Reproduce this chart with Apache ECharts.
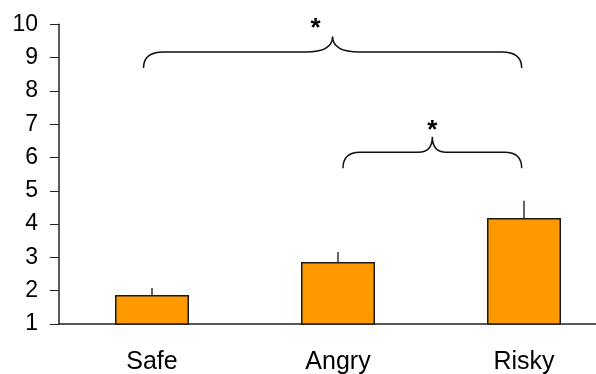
<!DOCTYPE html>
<html>
<head>
<meta charset="utf-8">
<script src="https://cdn.jsdelivr.net/npm/echarts@6/dist/echarts.min.js"></script>
<style>
  html, body { margin: 0; padding: 0; background: #fff; }
  #chart { width: 596px; height: 374px; }
</style>
</head>
<body>
<div id="chart"></div>
<script>
// Condition means with their upper error limits
const categories = ['Safe', 'Angry', 'Risky'];
const means = [1.87, 2.86, 4.18];
const errorTops = [2.08, 3.16, 4.70];

// Value axis range
const yMin = 1;
const yMax = 10;
const yStep = 1;

// Significance braces: first/last category index, value at the brace feet, mark
const braceFrom = [0, 1];
const braceTo = [2, 2];
const braceBase = [8.69, 5.68];
const braceMark = ['*', '*'];

// Drawing style for the braces (pixels)
const braceStyle = [
  { leftShift: -8.5, rightShift: -2.3, endRadius: 20, tipRadius: 27, markShift: -17, markLift: 2 },
  { leftShift: 5, rightShift: -2.3, endRadius: 17, tipRadius: 14, markShift: 0, markLift: 4.5 }
];
const FONT = 'Liberation Sans, Arial, sans-serif';

const chart = echarts.init(document.getElementById('chart'), null, { renderer: 'canvas' });

const errorData = categories.map((c, i) => [i, means[i], errorTops[i]]);
const braceData = braceFrom.map((f, i) => [f, braceTo[i], braceBase[i]]);

chart.setOption({
  animation: false,
  grid: { left: 59, top: 24.3, bottom: 50, right: -21, containLabel: false, outerBoundsMode: 'none' },
  xAxis: {
    type: 'category',
    data: categories,
    axisLine: { lineStyle: { color: '#222', width: 1.5 } },
    axisTick: { show: false },
    axisLabel: { fontSize: 25, color: '#000', fontFamily: FONT, margin: 26 }
  },
  yAxis: {
    type: 'value',
    min: yMin,
    max: yMax,
    interval: yStep,
    splitLine: { show: false },
    axisLine: { show: true, lineStyle: { color: '#222', width: 1.5 } },
    axisTick: { show: true, length: 9, lineStyle: { color: '#222', width: 1 } },
    axisLabel: { fontSize: 23, color: '#000', fontFamily: FONT, margin: 21 }
  },
  series: [
    {
      type: 'bar',
      data: means,
      barWidth: 74,
      clip: true,
      itemStyle: { color: '#FF9900', borderColor: '#1a1a1a', borderWidth: 1.5 }
    },
    {
      // upward error whiskers
      type: 'custom',
      data: errorData,
      encode: { x: 0, y: [1, 2] },
      z: 3,
      renderItem: (params, api) => {
        const lo = api.coord([api.value(0), api.value(1)]);
        const hi = api.coord([api.value(0), api.value(2)]);
        return {
          type: 'line',
          shape: { x1: lo[0], y1: lo[1], x2: hi[0], y2: hi[1] },
          style: { stroke: '#111', lineWidth: 1.3 }
        };
      }
    },
    {
      // curly braces with significance marks
      type: 'custom',
      data: braceData,
      encode: { x: [0, 1], y: 2 },
      z: 4,
      renderItem: (params, api) => {
        const s = braceStyle[params.dataIndex];
        const a = api.coord([api.value(0), api.value(2)]);
        const b = api.coord([api.value(1), api.value(2)]);
        const x0 = a[0] + s.leftShift;
        const x1 = b[0] + s.rightShift;
        const y0 = a[1];
        const yMid = y0 - 16;
        const yTip = y0 - 31.5;
        const xm = (x0 + x1) / 2;
        const r = s.endRadius, r2 = s.tipRadius;
        const d = [
          'M', x0, y0,
          'Q', x0, yMid, x0 + r, yMid,
          'L', xm - r2, yMid,
          'Q', xm, yMid, xm, yTip,
          'Q', xm, yMid, xm + r2, yMid,
          'L', x1 - r, yMid,
          'Q', x1, yMid, x1, y0
        ].join(' ');
        return {
          type: 'group',
          children: [
            {
              type: 'path',
              shape: { pathData: d },
              style: { stroke: '#111', lineWidth: 1.5, fill: null }
            },
            {
              type: 'text',
              style: {
                text: braceMark[params.dataIndex],
                x: xm + s.markShift,
                y: yTip + s.markLift + 3,
                align: 'center',
                verticalAlign: 'bottom',
                font: 'bold 26px ' + FONT,
                fill: '#000'
              }
            }
          ]
        };
      }
    }
  ]
});
</script>
</body>
</html>
